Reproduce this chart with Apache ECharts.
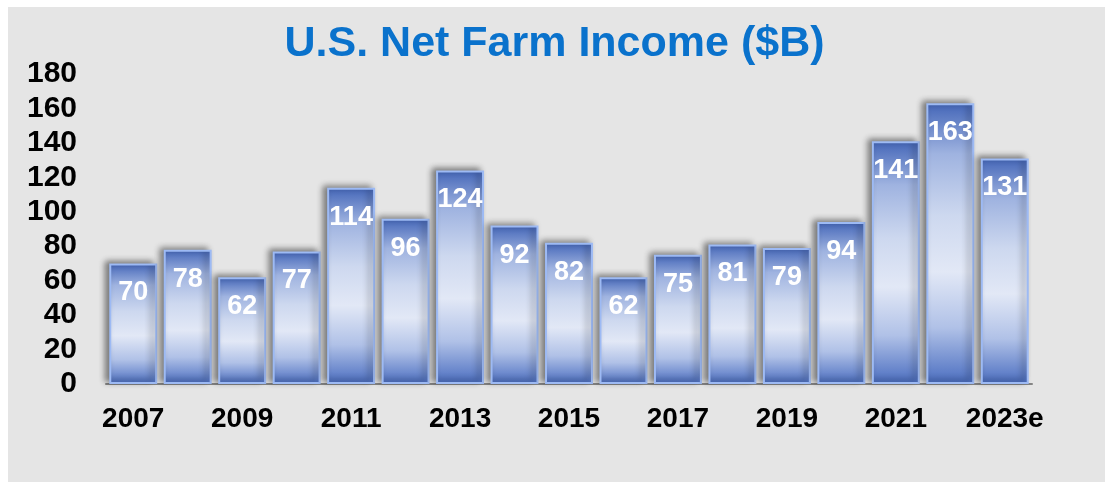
<!DOCTYPE html>
<html>
<head>
<meta charset="utf-8">
<script src="https://cdn.jsdelivr.net/npm/echarts@6/dist/echarts.min.js"></script>
<style>
  html, body { margin: 0; padding: 0; background: #ffffff; }
  #chart { width: 1109px; height: 482px; }
</style>
</head>
<body>
<div id="chart"></div>
<script>
var years = ['2007','2008','2009','2010','2011','2012','2013','2014','2015','2016','2017','2018','2019','2020','2021','2022','2023e'];
var income = [70,78,62,77,114,96,124,92,82,62,75,81,79,94,141,163,131];
var yTicks = { min: 0, max: 180, step: 20 };

var font = "'Liberation Sans', Arial, sans-serif";
var myChart = echarts.init(document.getElementById('chart'));

var barFill = new echarts.graphic.LinearGradient(0, 0, 0, 1, [
    { offset: 0, color: '#4466b8' },
    { offset: 0.18, color: '#9fb3e0' },
    { offset: 0.4, color: '#cdd8ef' },
    { offset: 0.6, color: '#e2e8f6' },
    { offset: 0.8, color: '#b0c1e7' },
    { offset: 1, color: '#4a6dc0' }
]);

var option = {
    backgroundColor: '#ffffff',
    graphic: [{
        type: 'rect',
        z: -10,
        shape: { x: 8, y: 7, width: 1097, height: 475 },
        style: { fill: '#e5e5e5' }
    }],
    title: {
        text: 'U.S. Net Farm Income ($B)',
        left: 'center',
        top: 18,
        textStyle: {
            color: '#0a72cc',
            fontSize: 43,
            fontWeight: 'bold',
            fontFamily: font
        }
    },
    grid: {
        left: 106,
        right: 77,
        top: 74,
        bottom: 98,
        containLabel: false
    },
    xAxis: {
        type: 'category',
        data: years,
        axisTick: { show: false },
        axisLine: {
            lineStyle: { color: '#858585', width: 2 }
        },
        axisLabel: {
            interval: 1,
            margin: 21,
            color: '#000000',
            fontSize: 28,
            fontWeight: 'bold',
            fontFamily: font
        }
    },
    yAxis: {
        type: 'value',
        min: yTicks.min,
        max: yTicks.max,
        interval: yTicks.step,
        splitLine: { show: false },
        axisLine: { show: false },
        axisTick: { show: false },
        axisLabel: {
            margin: 29,
            padding: [5, 0, 0, 0],
            color: '#000000',
            fontSize: 30,
            fontWeight: 'bold',
            fontFamily: font
        }
    },
    series: [{
        type: 'bar',
        data: income,
        barCategoryGap: '12%',
        itemStyle: {
            color: barFill,
            borderColor: '#9dbaf4',
            borderWidth: 2,
            shadowColor: 'rgba(0,0,0,0.45)',
            shadowBlur: 6,
            shadowOffsetX: -4,
            shadowOffsetY: -2
        },
        label: {
            show: true,
            position: 'insideTop',
            distance: 16,
            color: '#ffffff',
            fontSize: 27,
            fontWeight: 'bold',
            fontFamily: font
        }
    }]
};

myChart.setOption(option);
</script>
</body>
</html>
